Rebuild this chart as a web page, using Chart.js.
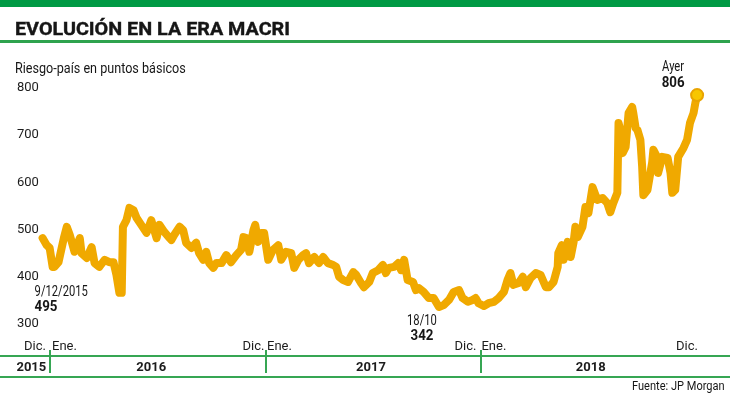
<!DOCTYPE html>
<html>
<head>
<meta charset="utf-8">
<script src="https://cdn.jsdelivr.net/npm/chart.js@4.4.0/dist/chart.umd.min.js"></script>
<style>
    body { margin: 0; background: #fff; font-family: Roboto, sans-serif; color: #161616; }
    #wrap { position: relative; width: 730px; height: 394px; overflow: hidden; }
    #barra { position: absolute; left: 0; top: 0; width: 730px; height: 7px; background: #009a44; }
    #titulo { position: absolute; left: 15px; top: 19px; font: 700 19px/1 Roboto; white-space: nowrap; transform: scaleX(1.04); transform-origin: left top; -webkit-text-stroke: 0.4px #161616; }
    #linea { position: absolute; left: 0; top: 40px; width: 730px; height: 3px; background: #2ea34e; }
    #subtitulo { position: absolute; left: 15px; top: 61px; font: 400 15px/1 Roboto; white-space: nowrap; transform: scaleX(0.84); transform-origin: left top; }
    #fuente { position: absolute; right: 5px; top: 380px; font: 400 12px/1 Roboto; white-space: nowrap; transform: scaleX(0.92); transform-origin: right top; }
    canvas { position: absolute; left: 0; top: 0; }
</style>
</head>
<body>
<div id="wrap">
    <canvas id="riesgoChart" width="730" height="394"></canvas>
    <div id="barra"></div>
    <div id="titulo">EVOLUCIÓN EN LA ERA MACRI</div>
    <div id="linea"></div>
    <div id="subtitulo">Riesgo-país en puntos básicos</div>
    <div id="fuente">Fuente: JP Morgan</div>
</div>
<script>
// días contados desde el 1/1/2016
const dias = [-12, -5, 0, 5, 8, 15, 24, 29, 34, 42, 51, 54, 63, 71, 76, 84, 93, 101, 108, 113, 118, 122, 124, 130, 135, 142, 147, 155, 164, 172, 181, 186, 194, 203,
    206, 211, 220, 226, 231, 240, 248, 253, 260, 265, 270, 277, 282, 291, 299, 307, 316, 324, 328, 333, 338, 345, 348, 353, 358, 363,
    370, 378, 387, 392, 400, 409, 414, 421, 429, 434, 439, 448, 456, 463, 471, 480, 485, 490, 497, 505, 514, 519, 527, 532, 541, 547, 556, 564, 569, 574,
    583, 590, 595, 600, 606, 615, 620, 625, 633, 642, 650, 659, 667, 676, 684, 693, 699, 708, 716, 721, 726,
    735, 743, 752, 760, 769, 775, 780, 785, 794, 801, 806, 814, 823, 831, 840, 845, 853, 860, 861, 867, 870, 877, 882, 887, 890, 894,
    902, 907, 912, 919, 927, 936, 944, 949, 954, 961, 963, 966, 970, 975, 980, 986, 988, 992, 995, 1000, 1003, 1005, 1012, 1020, 1022,
    1029, 1030, 1037, 1046, 1051, 1054, 1059, 1064, 1073, 1079, 1084, 1090, 1093, 1096];

// riesgo país en puntos básicos
const riesgo = [482, 467, 461, 421, 421, 431, 482, 506, 489, 453, 482, 450, 440, 463, 429, 421, 436, 431, 431, 404, 366, 366, 506, 520, 546, 541, 525, 510, 493, 520, 482, 510, 495, 482,
    478, 489, 506, 499, 472, 461, 472, 450, 436, 453, 429, 419, 429, 429, 446, 431, 446, 457, 484, 482, 453, 499, 510, 474, 493, 493,
    436, 457, 467, 436, 453, 450, 419, 436, 446, 450, 429, 442, 429, 442, 429, 425, 421, 400, 393, 389, 410, 404, 387, 378, 389, 408, 414, 425, 408, 419,
    421, 429, 414, 436, 393, 389, 372, 376, 368, 355, 355, 336, 340, 351, 368, 372, 355, 347, 351, 355, 344,
    338, 344, 347, 355, 368, 393, 408, 383, 387, 400, 378, 397, 408, 404, 378, 378, 389, 421, 450, 467, 436, 474, 442, 474, 506, 484,
    506, 548, 535, 590, 563, 567, 556, 537, 556, 578, 726, 711, 662, 675, 747, 760, 747, 715, 711, 690, 633, 573, 584, 643, 669,
    652, 620, 654, 652, 620, 578, 584, 654, 673, 690, 726, 747, 768, 785];

const ticksY = [300, 400, 500, 600, 700, 800];

// etiquetas de meses bajo el gráfico
const marcasX = [-25, 25, 345, 389, 704, 752, 1079];
const etiquetasX = ['Dic.', 'Ene.', 'Dic.', 'Ene.', 'Dic.', 'Ene.', 'Dic.'];

// franja de años
const posAnios = [-31, 172, 544, 916];
const anios = ['2015', '2016', '2017', '2018'];
const limitesAnio = [0, 366, 731];

// notas sobre la línea
const notasDia = [-12, 659, 1096];
const notasFecha = ['9/12/2015', '18/10', 'Ayer'];
const notasValor = ['495', '342', '806'];

const VERDE = '#36a653';
const AMARILLO = '#f0a900';

Chart.defaults.font.family = 'Roboto';
Chart.defaults.color = '#1c1c1c';

// lineas verdes de la franja de años
const bandaAnios = {
    id: 'bandaAnios',
    afterDraw(chart) {
        const { ctx, scales } = chart;
        const x = scales.x;
        ctx.save();
        ctx.strokeStyle = VERDE;
        ctx.lineWidth = 2;
        ctx.beginPath();
        ctx.moveTo(0, x.bottom);
        ctx.lineTo(chart.width, x.bottom);
        ctx.moveTo(0, scales.x2.bottom);
        ctx.lineTo(chart.width, scales.x2.bottom);
        limitesAnio.forEach(d => {
            const px = Math.round(x.getPixelForValue(d));
            ctx.moveTo(px, x.bottom - 6);
            ctx.lineTo(px, scales.x2.bottom - 4);
        });
        ctx.stroke();
        ctx.restore();
    }
};

// fecha y valor junto a los puntos destacados
const notas = {
    id: 'notas',
    afterDatasetsDraw(chart) {
        const { ctx } = chart;
        const puntos = chart.getDatasetMeta(0).data;
        const ajustes = [
            { align: 'left', dx: -8, dy1: 54, dy2: 69 },
            { align: 'center', dx: -17, dy1: 14, dy2: 29 },
            { align: 'center', dx: -24, dy1: -28, dy2: -12 }
        ];
        const texto = (t, x, y, font, escala, align) => {
            ctx.save();
            ctx.translate(x, y);
            ctx.scale(escala, 1);
            ctx.font = font;
            ctx.textAlign = align;
            ctx.fillText(t, 0, 0);
            ctx.restore();
        };
        ctx.save();
        ctx.fillStyle = '#161616';
        ctx.textBaseline = 'middle';
        notasDia.forEach((d, i) => {
            const p = puntos[dias.indexOf(d)];
            const a = ajustes[i];
            texto(notasFecha[i], p.x + a.dx, p.y + a.dy1, '400 14px Roboto', 0.8, a.align);
            texto(notasValor[i], p.x + a.dx, p.y + a.dy2, '700 14px Roboto', 0.95, a.align);
        });
        ctx.restore();
    }
};

const ctx = document.getElementById('riesgoChart').getContext('2d');
const riesgoChart = new Chart(ctx, {
    type: 'line',
    data: {
        datasets: [{
            data: dias.map((d, i) => ({ x: d, y: riesgo[i] })),
            borderColor: AMARILLO,
            borderWidth: 8,
            borderJoinStyle: 'round',
            borderCapStyle: 'round',
            tension: 0,
            clip: false,
            pointRadius: c => c.dataIndex === riesgo.length - 1 ? 6 : 0,
            pointBackgroundColor: '#f7c600',
            pointBorderColor: '#e9a400',
            pointBorderWidth: 2
        }]
    },
    options: {
        responsive: false,
        animation: false,
        layout: { padding: { left: 14, right: 14, top: 88, bottom: 17 } },
        plugins: { legend: { display: false }, tooltip: { enabled: false } },
        scales: {
            x: {
                type: 'linear', min: -57, max: 1128, weight: 0,
                grid: { display: false, drawTicks: false },
                border: { display: false },
                afterBuildTicks: s => { s.ticks = marcasX.map(v => ({ value: v })); },
                afterFit: s => { s.height = 32; },
                ticks: {
                    autoSkip: false, maxRotation: 0, padding: 15,
                    font: { size: 13 },
                    callback: (v, i) => etiquetasX[i]
                }
            },
            x2: {
                type: 'linear', position: 'bottom', min: -57, max: 1128, weight: 1,
                grid: { display: false, drawTicks: false },
                border: { display: false },
                afterBuildTicks: s => { s.ticks = posAnios.map(v => ({ value: v })); },
                afterFit: s => { s.height = 21; },
                ticks: {
                    autoSkip: false, maxRotation: 0, padding: 4,
                    font: { size: 13, weight: 'bold' },
                    callback: (v, i) => anios[i]
                }
            },
            y: {
                min: 300, max: 800,
                grid: { display: false, drawTicks: false },
                border: { display: false },
                afterBuildTicks: s => { s.ticks = ticksY.map(v => ({ value: v })); },
                ticks: { mirror: true, padding: 1, font: { size: 13 } }
            }
        }
    },
    plugins: [bandaAnios, notas]
});
</script>
</body>
</html>
